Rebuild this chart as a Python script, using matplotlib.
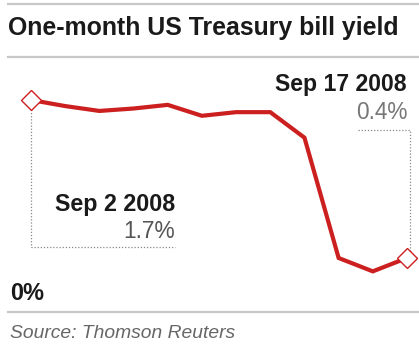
import matplotlib
matplotlib.use("Agg")
import matplotlib.pyplot as plt
from matplotlib import font_manager

# data
dates = ["Sep 2", "Sep 3", "Sep 4", "Sep 5", "Sep 8", "Sep 9", "Sep 10",
         "Sep 11", "Sep 12", "Sep 15", "Sep 16", "Sep 17"]
yields = [1.70, 1.65, 1.61, 1.63, 1.66, 1.57, 1.60, 1.60, 1.39, 0.40, 0.29, 0.40]

installed = {f.name for f in font_manager.fontManager.ttflist}
narrow = "Liberation Sans Narrow" if "Liberation Sans Narrow" in installed else "Liberation Sans"

W, H = 419, 351
fig = plt.figure(figsize=(W / 100, H / 100), dpi=100)
renderer = fig.canvas.get_renderer()

def px(x, y):
    return x / W, 1 - y / H

def label(x, y, s, width, ha="left", **kw):
    # place text and shrink/grow it so it spans about `width` pixels
    t = fig.text(*px(x, y), s, family=narrow, ha=ha, va="center", fontsize=14, **kw)
    w = t.get_window_extent(renderer).width
    t.set_fontsize(14 * width / w)
    return t

# plot region in pixels: x idx0 -> 31, idx11 -> 407 ; y 0 -> 306.6, 1.7 -> 100
x0, x1 = 31, 407
y0, ytop = 306.6, 100
ax = fig.add_axes([x0 / W, 1 - y0 / H, (x1 - x0) / W, (y0 - ytop) / H])
ax.set_xlim(0, len(yields) - 1)
ax.set_ylim(0, 1.7)
ax.axis("off")

xs = list(range(len(yields)))
red = "#cc2020"
ax.plot(xs, yields, color=red, lw=3.0, solid_joinstyle="miter", clip_on=False, zorder=3)
ax.plot([xs[0], xs[-1]], [yields[0], yields[-1]], ls="none", marker="D", ms=10,
        mfc="white", mec=red, mew=1.0, clip_on=False, zorder=4)

dot = dict(color="#888888", lw=0.9, ls=(0, (1, 1.5)), clip_on=False, zorder=1)
ax.plot([0, 0, 4.21], [yields[0], 0.49, 0.49], **dot)
ax.plot([9.57, 11.08, 11.08], [1.45, 1.45, yields[-1]], **dot)

for yy in (4, 57, 312):
    fig.add_artist(plt.Line2D([8 / W, 1], [1 - yy / H] * 2, color="#c8c8c8", lw=1.6))

label(8, 28, "One-month US Treasury bill yield", 392, weight="bold", color="#1a1a1a")

label(175, 205, f"{dates[0]} 2008", 120, ha="right", weight="bold", color="#1a1a1a")
label(175, 232, f"{yields[0]:.1f}%", 52, ha="right", color="#555555")
label(407, 85, f"{dates[-1]} 2008", 132, ha="right", weight="bold", color="#1a1a1a")
label(407, 112, f"{yields[-1]:.1f}%", 52, ha="right", color="#777777")

label(10, 294, "0%", 34, weight="bold", color="#1a1a1a")
label(10, 333, "Source: Thomson Reuters", 225, style="italic", color="#666666")

fig.savefig("out.png", dpi=100)
